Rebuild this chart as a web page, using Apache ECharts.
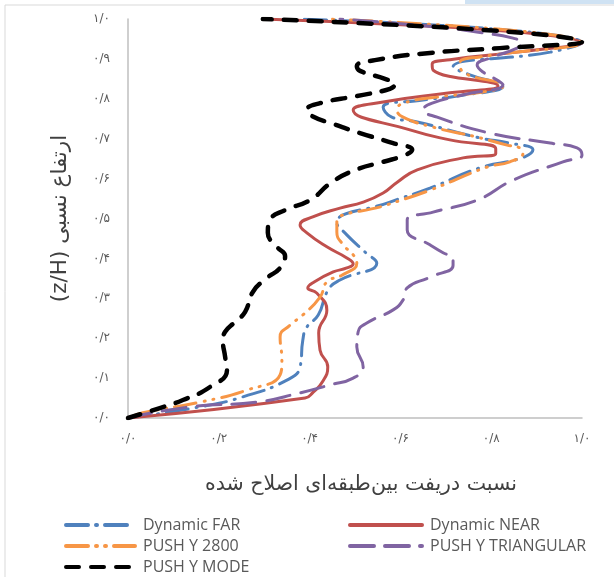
<!DOCTYPE html>
<html>
<head>
<meta charset="utf-8">
<script src="https://cdn.jsdelivr.net/npm/echarts@6/dist/echarts.min.js"></script>
<style>
  html, body { margin: 0; padding: 0; background: #fff; }
  #chart { width: 614px; height: 577px; }
</style>
</head>
<body>
<div id="chart"></div>
<script>
// نقاط هر منحنی: [دریفت اصلاح شده, ارتفاع نسبی]
const seriesNames = ['Dynamic FAR', 'Dynamic NEAR', 'PUSH Y 2800', 'PUSH Y TRIANGULAR', 'PUSH Y MODE']

const farPts = [
  [0, 0], [0.159, 0.028], [0.253, 0.053], [0.35, 0.095], [0.379, 0.128], [0.385, 0.195],
  [0.394, 0.228], [0.419, 0.258], [0.441, 0.321], [0.467, 0.346], [0.548, 0.388], [0.522, 0.416],
  [0.482, 0.459], [0.46, 0.489], [0.577, 0.541], [0.665, 0.576], [0.775, 0.627], [0.868, 0.652],
  [0.892, 0.672], [0.841, 0.689], [0.775, 0.702], [0.637, 0.742], [0.581, 0.754], [0.562, 0.779],
  [0.65, 0.797], [0.725, 0.807], [0.826, 0.832], [0.753, 0.86], [0.716, 0.88], [0.93, 0.917],
  [1.0, 0.94], [0.379, 1.0]
]

const nearPts = [
  [0, 0], [0.39, 0.05], [0.408, 0.065], [0.428, 0.09], [0.44, 0.128], [0.423, 0.17], [0.42, 0.213],
  [0.438, 0.27], [0.416, 0.313], [0.396, 0.326], [0.41, 0.341], [0.452, 0.366], [0.482, 0.376],
  [0.496, 0.386], [0.482, 0.401], [0.438, 0.429], [0.394, 0.464], [0.379, 0.484], [0.407, 0.504],
  [0.467, 0.526], [0.518, 0.541], [0.562, 0.564], [0.593, 0.591], [0.637, 0.622], [0.738, 0.652],
  [0.81, 0.663], [0.81, 0.675], [0.709, 0.697], [0.621, 0.722], [0.496, 0.772], [0.562, 0.792],
  [0.709, 0.815], [0.815, 0.832], [0.672, 0.872], [0.67, 0.887], [0.709, 0.898], [0.857, 0.917],
  [1.0, 0.94], [0.297, 1.0]
]

const push2800Pts = [
  [0, 0], [0.033, 0.013], [0.159, 0.04], [0.262, 0.07], [0.335, 0.108], [0.339, 0.145],
  [0.335, 0.203], [0.357, 0.233], [0.385, 0.258], [0.423, 0.303], [0.438, 0.341], [0.471, 0.358],
  [0.504, 0.388], [0.496, 0.409], [0.474, 0.434], [0.46, 0.466], [0.46, 0.491], [0.57, 0.534],
  [0.665, 0.571], [0.791, 0.629], [0.841, 0.642], [0.87, 0.664], [0.863, 0.677], [0.835, 0.684],
  [0.769, 0.704], [0.672, 0.729], [0.606, 0.754], [0.593, 0.772], [0.606, 0.789], [0.687, 0.805],
  [0.782, 0.817], [0.826, 0.832], [0.738, 0.867], [0.731, 0.89], [0.775, 0.905], [1.0, 0.94],
  [0.445, 1.0]
]

const triangPts = [
  [0, 0], [0.137, 0.028], [0.284, 0.04], [0.379, 0.063], [0.445, 0.083], [0.496, 0.1],
  [0.518, 0.128], [0.504, 0.178], [0.507, 0.216], [0.526, 0.238], [0.584, 0.271], [0.606, 0.296],
  [0.615, 0.326], [0.665, 0.353], [0.716, 0.383], [0.716, 0.401], [0.694, 0.414], [0.665, 0.434],
  [0.615, 0.471], [0.615, 0.496], [0.672, 0.516], [0.769, 0.546], [0.848, 0.596], [0.958, 0.642],
  [1.0, 0.659], [0.989, 0.677], [0.93, 0.689], [0.797, 0.714], [0.681, 0.754], [0.65, 0.772],
  [0.67, 0.789], [0.738, 0.81], [0.826, 0.835], [0.813, 0.847], [0.782, 0.867], [0.769, 0.885],
  [0.797, 0.902], [0.857, 0.927], [0.868, 0.94], [0.848, 0.952], [0.782, 0.965], [0.681, 0.98],
  [0.467, 1.0]
]

const modePts = [
  [0, 0], [0.07, 0.025], [0.121, 0.045], [0.181, 0.078], [0.218, 0.12], [0.214, 0.153],
  [0.209, 0.195], [0.214, 0.216], [0.236, 0.241], [0.258, 0.266], [0.275, 0.316], [0.306, 0.351],
  [0.335, 0.376], [0.346, 0.406], [0.328, 0.429], [0.308, 0.464], [0.313, 0.496], [0.346, 0.521],
  [0.401, 0.546], [0.449, 0.591], [0.502, 0.622], [0.562, 0.642], [0.61, 0.659], [0.626, 0.672],
  [0.584, 0.689], [0.511, 0.714], [0.452, 0.737], [0.405, 0.757], [0.394, 0.772], [0.423, 0.789],
  [0.504, 0.807], [0.577, 0.825], [0.588, 0.837], [0.566, 0.85], [0.511, 0.87], [0.504, 0.882],
  [0.544, 0.897], [0.665, 0.915], [0.819, 0.927], [1.0, 0.942], [0.297, 1.0]
]

const faDigits = '۰۱۲۳۴۵۶۷۸۹'
function faNum(v) {
  return v.toFixed(1).replace(/\d/g, d => faDigits[d]).replace('.', '/')
}

const chart = echarts.init(document.getElementById('chart'))

const labelStyle = { color: '#595959', fontSize: 12, fontFamily: 'DejaVu Sans' }
const legendText = { color: '#595959', fontSize: 16, fontFamily: 'Open Sans', padding: [0, 0, 0, 3] }

function lineSeries(name, data, color, width, dash) {
  return {
    name: name,
    type: 'line',
    data: data,
    smooth: 0.5,
    symbol: 'none',
    lineStyle: { color: color, width: width, type: dash, cap: 'round' },
    itemStyle: { color: color }
  }
}

function legendBlock(left, iconWidth, names) {
  return {
    orient: 'vertical',
    left: left,
    top: 517,
    height: 70,
    padding: 0,
    itemWidth: iconWidth,
    itemHeight: 12,
    itemGap: 5,
    itemStyle: { opacity: 0 },
    lineStyle: { width: 4 },
    textStyle: legendText,
    data: names
  }
}

chart.setOption({
  animation: false,
  graphic: [{
    type: 'rect',
    shape: { x: 465, y: 0, width: 150, height: 4 },
    style: { fill: '#CFE2F3' }
  }, {
    type: 'rect',
    shape: { x: 5, y: 5, width: 640, height: 600 },
    style: { fill: 'none', stroke: '#D9D9D9', lineWidth: 1 }
  }],
  grid: { left: 128, right: 32, top: 19, bottom: 159 },
  legend: [
    legendBlock(64, 69, [seriesNames[0], seriesNames[2], seriesNames[4]]),
    legendBlock(348, 72, [seriesNames[1], seriesNames[3]])
  ],
  xAxis: {
    type: 'value',
    min: 0,
    max: 1,
    interval: 0.2,
    name: 'نسبت دریفت بین‌طبقه‌ای اصلاح شده',
    nameLocation: 'middle',
    nameGap: 56,
    nameTextStyle: { color: '#404040', fontSize: 20.5, fontFamily: 'DejaVu Sans', padding: [0, 0, 0, 12] },
    axisLine: { lineStyle: { color: '#BFBFBF', width: 1.5 } },
    axisTick: { show: false },
    splitLine: { show: false },
    axisLabel: Object.assign({ margin: 15, formatter: faNum }, labelStyle)
  },
  yAxis: {
    type: 'value',
    min: 0,
    max: 1,
    interval: 0.1,
    name: '\u202Bارتفاع نسبی (z/H)\u202C',
    nameLocation: 'middle',
    nameRotate: 90,
    nameGap: 57,
    nameTextStyle: { color: '#404040', fontSize: 21.5, fontFamily: 'DejaVu Sans' },
    axisLine: { show: true, lineStyle: { color: '#BFBFBF', width: 1.5 } },
    axisTick: { show: false },
    splitLine: { show: false },
    axisLabel: Object.assign({ margin: 18, formatter: faNum }, labelStyle)
  },
  series: [
    lineSeries(seriesNames[0], farPts, '#4F81BD', 3, [22, 8, 1, 8]),
    lineSeries(seriesNames[1], nearPts, '#C0504D', 3, 'solid'),
    lineSeries(seriesNames[2], push2800Pts, '#F79646', 3, [22, 8, 1, 8, 1, 8]),
    lineSeries(seriesNames[3], triangPts, '#8064A2', 3, [24, 11]),
    lineSeries(seriesNames[4], modePts, '#000000', 4.5, [13, 12])
  ]
})
</script>
</body>
</html>
